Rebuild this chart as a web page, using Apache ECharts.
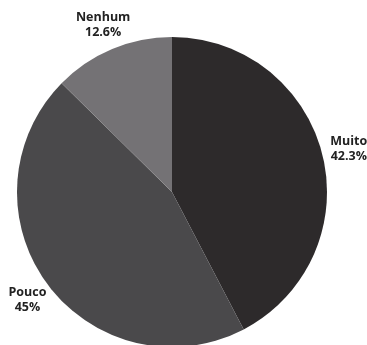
<!DOCTYPE html>
<html><head><meta charset="utf-8">
<script src="https://cdn.jsdelivr.net/npm/echarts@6/dist/echarts.min.js"></script>
<style>html,body{margin:0;padding:0;background:#fff}#c{width:367px;height:345px}</style>
</head><body><div id="c"></div>
<script>
const categories = ["Muito", "Pouco", "Nenhum"];
const values = [42.3, 45, 12.6];
const valueLabels = ["42.3%", "45%", "12.6%"];
const colors = ["#2d2a2b", "#4a494b", "#747275"];

const CX = 172, CY = 192, R = 155, LR = 181;
const total = values.reduce((a, b) => a + b, 0);
const midAngles = [];
let acc = 0;
values.forEach(v => { midAngles.push((acc + v / 2) / total * 2 * Math.PI); acc += v; });

const chart = echarts.init(document.getElementById('c'));
chart.setOption({
  animation: false,
  series: [{
    type: 'pie',
    center: [CX, CY],
    radius: R,
    startAngle: 90,
    clockwise: true,
    data: categories.map((c, i) => ({name: c, value: values[i], itemStyle: {color: colors[i]}, label: {formatter: c + '\n' + valueLabels[i]}})),
    label: {
      show: true, position: 'inside', color: '#222', fontFamily: 'Open Sans', fontWeight: 'bold', fontSize: 12.5, lineHeight: 15, align: 'center'
    },
    labelLine: {show: false},
    labelLayout: function (p) {
      const a = midAngles[p.dataIndex];
      return {x: CX + 1 + LR * Math.sin(a), y: CY - LR * Math.cos(a), align: 'center', verticalAlign: 'middle'};
    },
    itemStyle: {borderWidth: 0}
  }]
});
</script></body></html>
